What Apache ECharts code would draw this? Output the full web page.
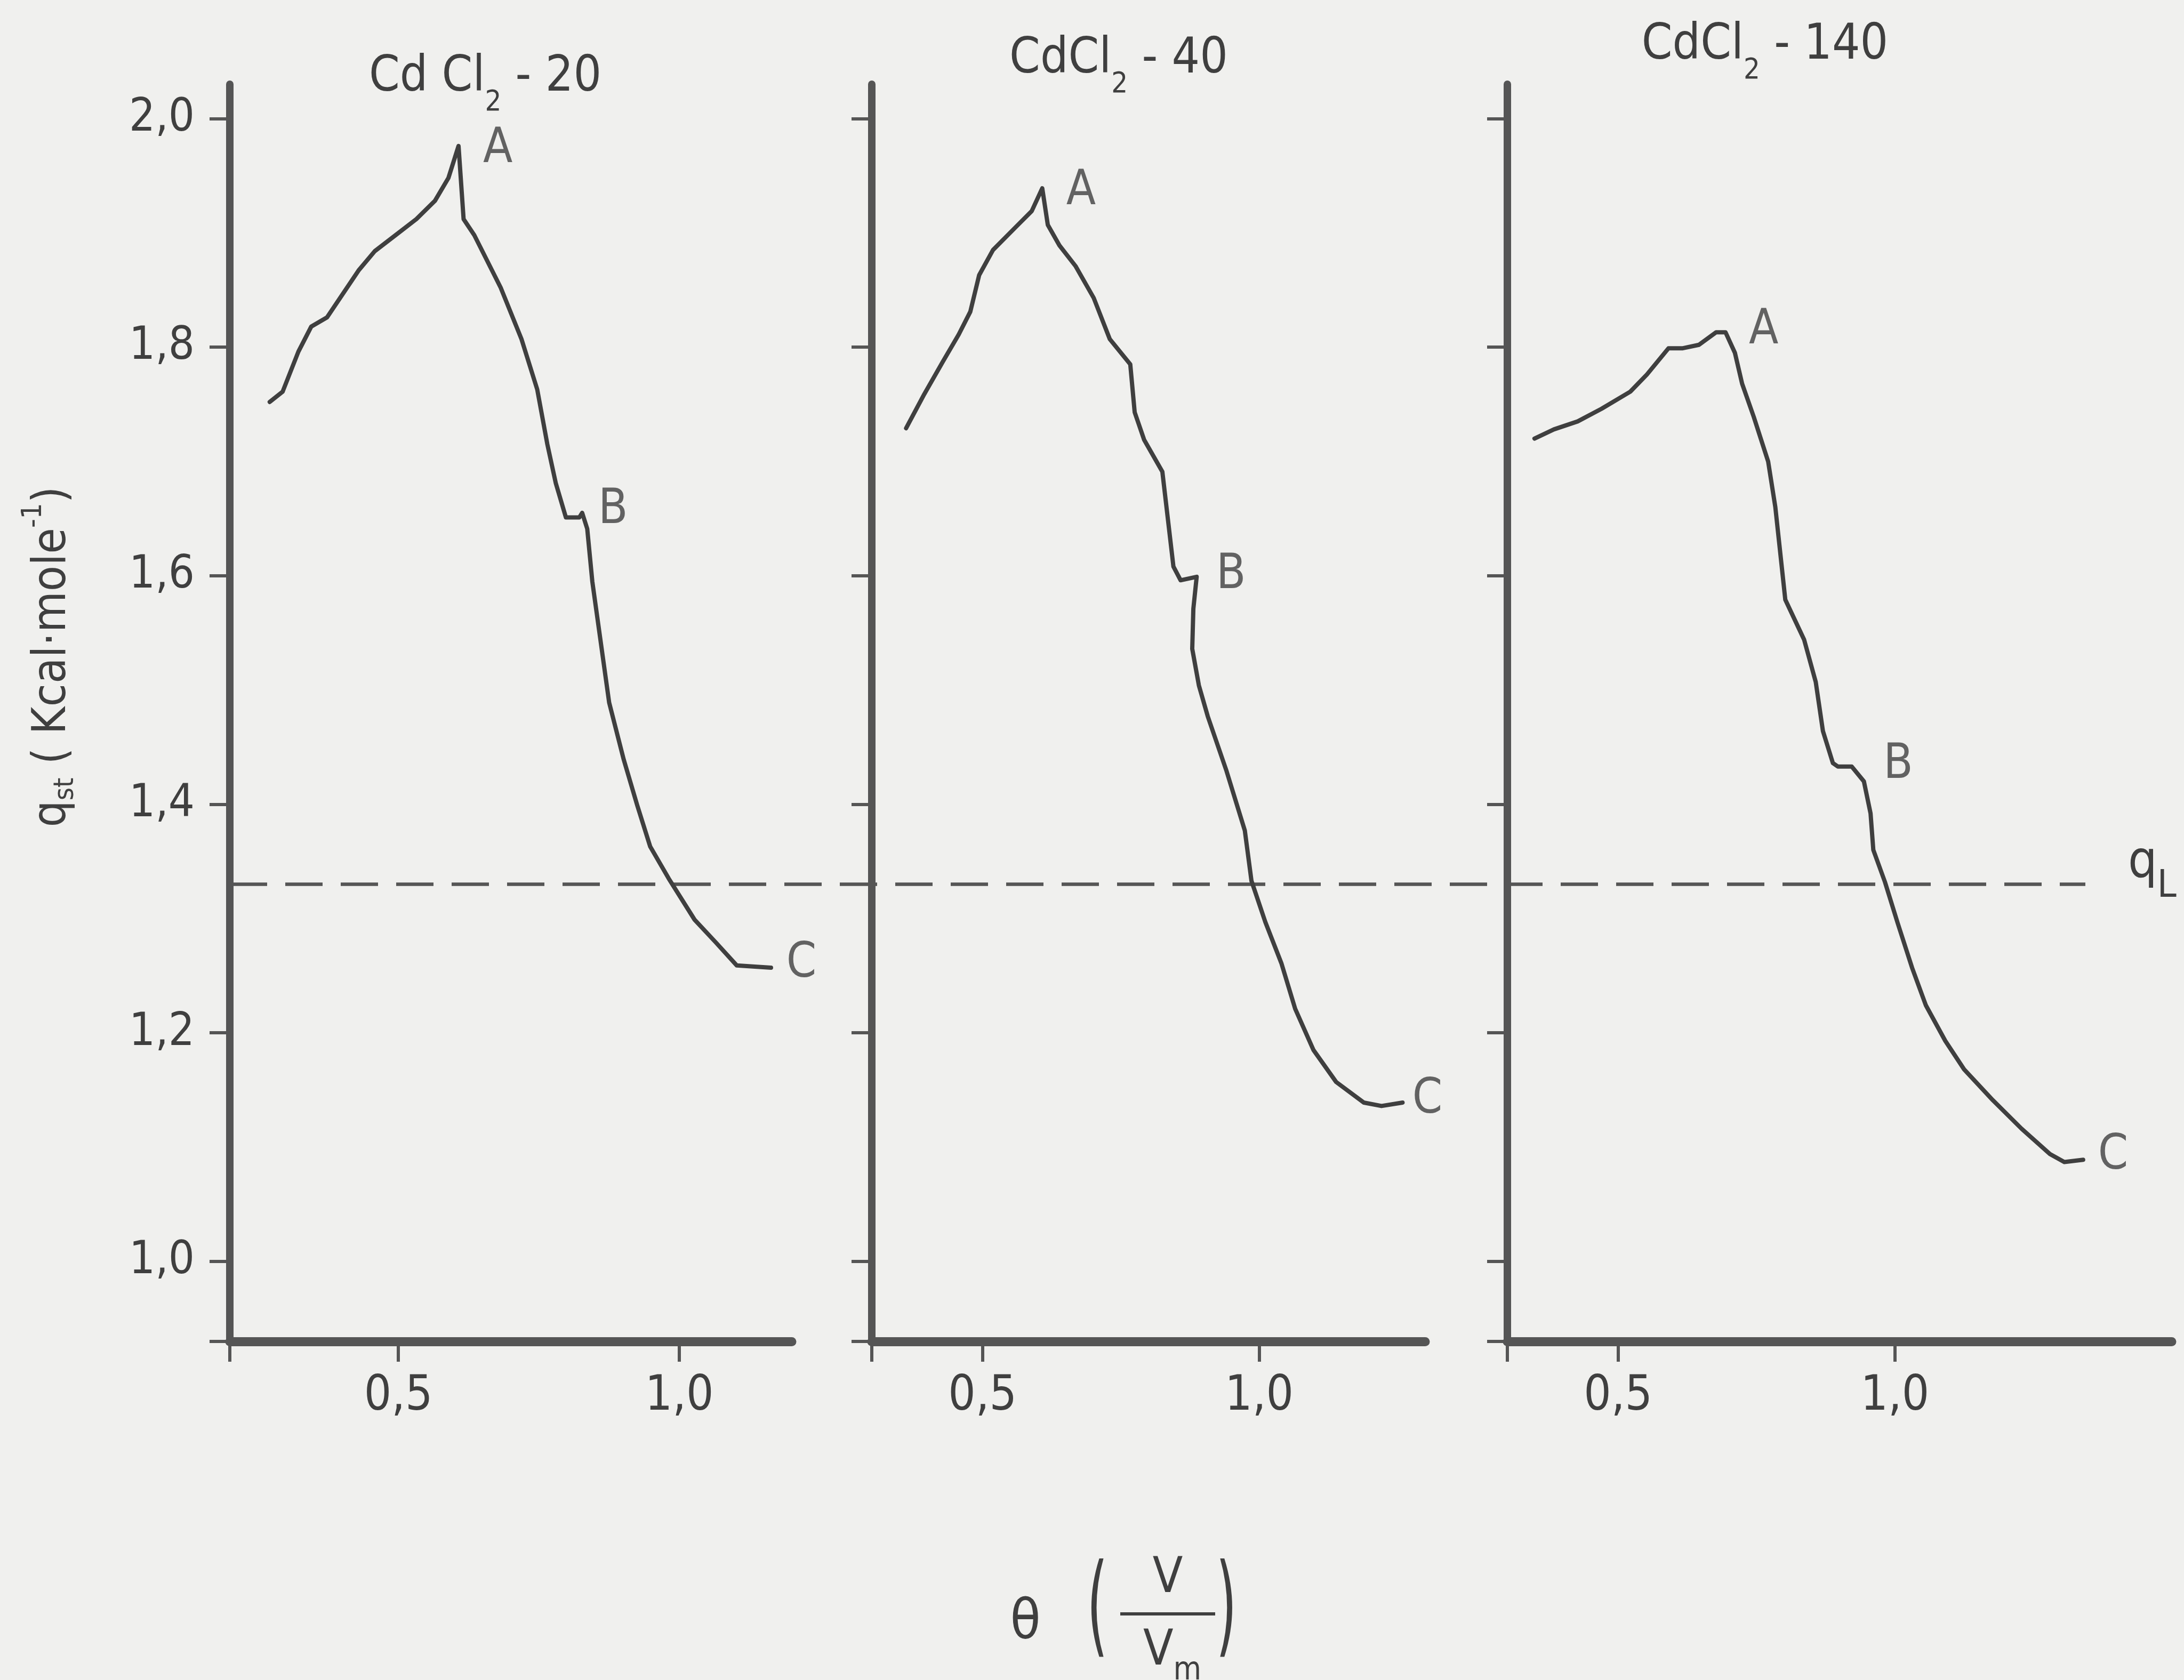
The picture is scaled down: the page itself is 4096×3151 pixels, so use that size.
<!DOCTYPE html>
<html><head><meta charset="utf-8">
<script src="https://cdn.jsdelivr.net/npm/echarts@6/dist/echarts.min.js"></script>
<style>html,body{margin:0;padding:0;background:#f0f0ee;}#c{width:4096px;height:3151px;}</style>
</head><body><div id="c"></div>
<script>
// ---------------- data ----------------
const theta20 = [0.271,0.294,0.322,0.345,0.373,0.429,0.458,0.495,0.532,0.565,0.589,0.607,0.616,0.635,0.682,0.719,0.747,0.765,0.780,0.798,0.822,0.827,0.836,0.845,0.875,0.901,0.925,0.948,0.981,1.027,1.065,1.102,1.163];
const qst20   = [1.752,1.761,1.796,1.818,1.826,1.867,1.884,1.898,1.912,1.928,1.948,1.976,1.912,1.898,1.852,1.807,1.763,1.715,1.681,1.651,1.651,1.655,1.641,1.595,1.489,1.439,1.399,1.363,1.335,1.299,1.279,1.259,1.257];

const theta40 = [0.362,0.395,0.428,0.457,0.478,0.494,0.519,0.560,0.589,0.608,0.618,0.639,0.668,0.701,0.730,0.767,0.775,0.792,0.825,0.845,0.858,0.887,0.881,0.879,0.891,0.907,0.941,0.974,0.986,1.011,1.040,1.065,1.098,1.139,1.189,1.221,1.259];
const qst40   = [1.729,1.759,1.787,1.811,1.831,1.863,1.885,1.905,1.919,1.939,1.907,1.889,1.871,1.843,1.807,1.785,1.743,1.719,1.691,1.608,1.596,1.599,1.571,1.536,1.504,1.477,1.429,1.377,1.333,1.297,1.261,1.221,1.185,1.157,1.139,1.136,1.139];

const theta140 = [0.349,0.384,0.427,0.470,0.522,0.552,0.591,0.617,0.646,0.677,0.694,0.711,0.724,0.745,0.771,0.784,0.802,0.836,0.857,0.870,0.888,0.897,0.922,0.944,0.956,0.961,0.982,1.005,1.031,1.056,1.091,1.125,1.177,1.229,1.280,1.306,1.340];
const qst140   = [1.720,1.728,1.735,1.746,1.761,1.776,1.799,1.799,1.802,1.813,1.813,1.795,1.768,1.739,1.700,1.660,1.579,1.544,1.507,1.464,1.436,1.433,1.433,1.420,1.392,1.360,1.332,1.296,1.257,1.224,1.193,1.168,1.141,1.116,1.094,1.087,1.089];

const qL = 1.33;
const pointNames = ['A', 'B', 'C'];
const letters20  = [[0.677,1.973],[0.882,1.657],[1.217,1.260]];
const letters40  = [[0.678,1.936],[0.949,1.600],[1.304,1.141]];
const letters140 = [[0.763,1.814],[1.006,1.434],[1.394,1.092]];

const panelTitles = ['{m|Cd Cl}{s|2}{m| - 20}', '{m|CdCl}{s|2}{m| - 40}', '{m|CdCl}{s|2}{m| - 140}'];
const xRanges = [[0.2, 1.2], [0.3, 1.3], [0.3, 1.5]];
const yRange = [0.93, 2.03];
const xLabelValues = [0.5, 1.0];
const yLabelValues = [1.0, 1.2, 1.4, 1.6, 1.8, 2.0];

// ---------------- style ----------------
const FONT = "'Liberation Sans Narrow','DejaVu Sans Condensed','Liberation Sans',sans-serif";
const INK = '#3f3f3f';
const AXIS = '#555555';
const fmt = v => v.toFixed(1).replace('.', ',');
const zip = (xs, ys) => xs.map((x, i) => [x, ys[i]]);

const grids = [
  {left: 431, right: 2611, top: 158, bottom: 635},
  {left: 1635, right: 1423, top: 158, bottom: 635},
  {left: 2827, right: 23, top: 158, bottom: 635},
  {left: 431, right: 185, top: 158, bottom: 635}
];

const xAxes = xRanges.map((r, i) => ({
  type: 'value', gridIndex: i, min: r[0], max: r[1],
  axisLine: {show: true, onZero: false, lineStyle: {color: AXIS, width: 17}},
  axisTick: {show: true, customValues: [r[0]].concat(xLabelValues), length: 38, lineStyle: {color: AXIS, width: 6}},
  axisLabel: {show: true, customValues: xLabelValues, formatter: fmt, margin: 60,
              fontFamily: FONT, fontSize: 90, color: INK},
  splitLine: {show: false}
}));
xAxes.push({type: 'value', gridIndex: 3, min: 0, max: 1, show: false});

const yAxes = [0, 1, 2].map(i => ({
  type: 'value', gridIndex: i, min: yRange[0], max: yRange[1],
  axisLine: {show: true, onZero: false, lineStyle: {color: AXIS, width: 14}},
  axisTick: {show: true, customValues: [yRange[0]].concat(yLabelValues), length: 38, lineStyle: {color: AXIS, width: 6}},
  axisLabel: {show: i === 0, customValues: yLabelValues, formatter: fmt, margin: 66,
              fontFamily: FONT, fontSize: 86, color: INK},
  splitLine: {show: false}
}));
yAxes.push({type: 'value', gridIndex: 3, min: yRange[0], max: yRange[1], show: false});

yAxes[0].name = '{m|q}{sub|st}{m| ( Kcal·mole}{sup|-1}{m|)}';
yAxes[0].nameLocation = 'middle';
yAxes[0].nameRotate = 90;
yAxes[0].nameGap = 318;
yAxes[0].nameTextStyle = {
  color: INK, fontFamily: FONT, padding: [0, 0, 0, 210],
  rich: {
    m:   {fontFamily: FONT, color: INK, fontSize: 88, lineHeight: 88, verticalAlign: 'top', padding: [30, 0, 0, 0]},
    sup: {fontFamily: FONT, color: INK, fontSize: 52, lineHeight: 52, verticalAlign: 'top', padding: [12, 0, 0, 0]},
    sub: {fontFamily: FONT, color: INK, fontSize: 52, lineHeight: 52, verticalAlign: 'top', padding: [72, 0, 0, 0]}
  }
};

const curves = [zip(theta20, qst20), zip(theta40, qst40), zip(theta140, qst140)];
const letterSets = [letters20, letters40, letters140];

const series = [];
series.push({
  type: 'line', xAxisIndex: 3, yAxisIndex: 3, silent: true, symbol: 'none',
  lineStyle: {color: AXIS, width: 6.5, type: [70, 34]},
  data: [[0, qL], [1, qL]],
  endLabel: {
    show: true, distance: 80, offset: [0, -38],
    formatter: '{q|q}{l|L}',
    rich: {
      q: {fontFamily: FONT, color: INK, fontSize: 96, lineHeight: 96, verticalAlign: 'top'},
      l: {fontFamily: FONT, color: INK, fontSize: 72, lineHeight: 72, verticalAlign: 'top', padding: [55, 0, 0, 0]}
    }
  }
});
curves.forEach((d, i) => {
  series.push({
    type: 'line', xAxisIndex: i, yAxisIndex: i, silent: true, symbol: 'none',
    lineStyle: {color: INK, width: 8, join: 'round', cap: 'round'},
    data: d
  });
  series.push({
    type: 'scatter', xAxisIndex: i, yAxisIndex: i, silent: true, clip: false, symbolSize: 0,
    label: {show: true, position: 'inside', formatter: p => p.name,
            fontFamily: FONT, fontSize: 90, color: INK},
    data: letterSets[i].map((p, k) => ({name: pointNames[k], value: p}))
  });
});

const titleRich = {
  m: {fontFamily: FONT, fill: INK, fontSize: 92, lineHeight: 92, verticalAlign: 'top'},
  s: {fontFamily: FONT, fill: INK, fontSize: 54, lineHeight: 54, verticalAlign: 'top', padding: [66, 0, 0, 0]}
};
const titlePos = [[910, 100], [2098, 66], [3310, 40]];
const graphic = panelTitles.map((t, i) => ({
  type: 'text', x: titlePos[i][0], y: titlePos[i][1], silent: true,
  style: {text: t, rich: titleRich, textAlign: 'center', textVerticalAlign: 'top', fill: INK}
}));
const thin = {fontFamily: FONT, fill: INK};
graphic.push(
  {type: 'text', x: 1923, y: 3046, style: Object.assign({text: 'θ', fontSize: 104, textAlign: 'center', textVerticalAlign: 'middle'}, thin)},
  {type: 'text', x: 2058, y: 3026, scaleY: 1.85, style: Object.assign({text: '(', fontSize: 112, textAlign: 'center', textVerticalAlign: 'middle'}, thin)},
  {type: 'text', x: 2300, y: 3026, scaleY: 1.85, style: Object.assign({text: ')', fontSize: 112, textAlign: 'center', textVerticalAlign: 'middle'}, thin)},
  {type: 'text', x: 2190, y: 2962, style: Object.assign({text: 'V', fontSize: 92, textAlign: 'center', textVerticalAlign: 'middle'}, thin)},
  {type: 'line', shape: {x1: 2101, y1: 3027, x2: 2279, y2: 3027}, style: {stroke: INK, lineWidth: 6}},
  {type: 'text', x: 2144, y: 3098, style: {text: '{m|V}{s|m}', textAlign: 'left', textVerticalAlign: 'middle',
    rich: {
      m: {fontFamily: FONT, fill: INK, fontSize: 92, lineHeight: 92, verticalAlign: 'top'},
      s: {fontFamily: FONT, fill: INK, fontSize: 60, lineHeight: 60, verticalAlign: 'top', padding: [52, 0, 0, 0]}
    }}}
);

const chart = echarts.init(document.getElementById('c'), null, {renderer: 'canvas'});
chart.setOption({
  backgroundColor: '#f0f0ee',
  animation: false,
  grid: grids,
  xAxis: xAxes,
  yAxis: yAxes,
  series: series,
  graphic: graphic
});
</script>
</body></html>
